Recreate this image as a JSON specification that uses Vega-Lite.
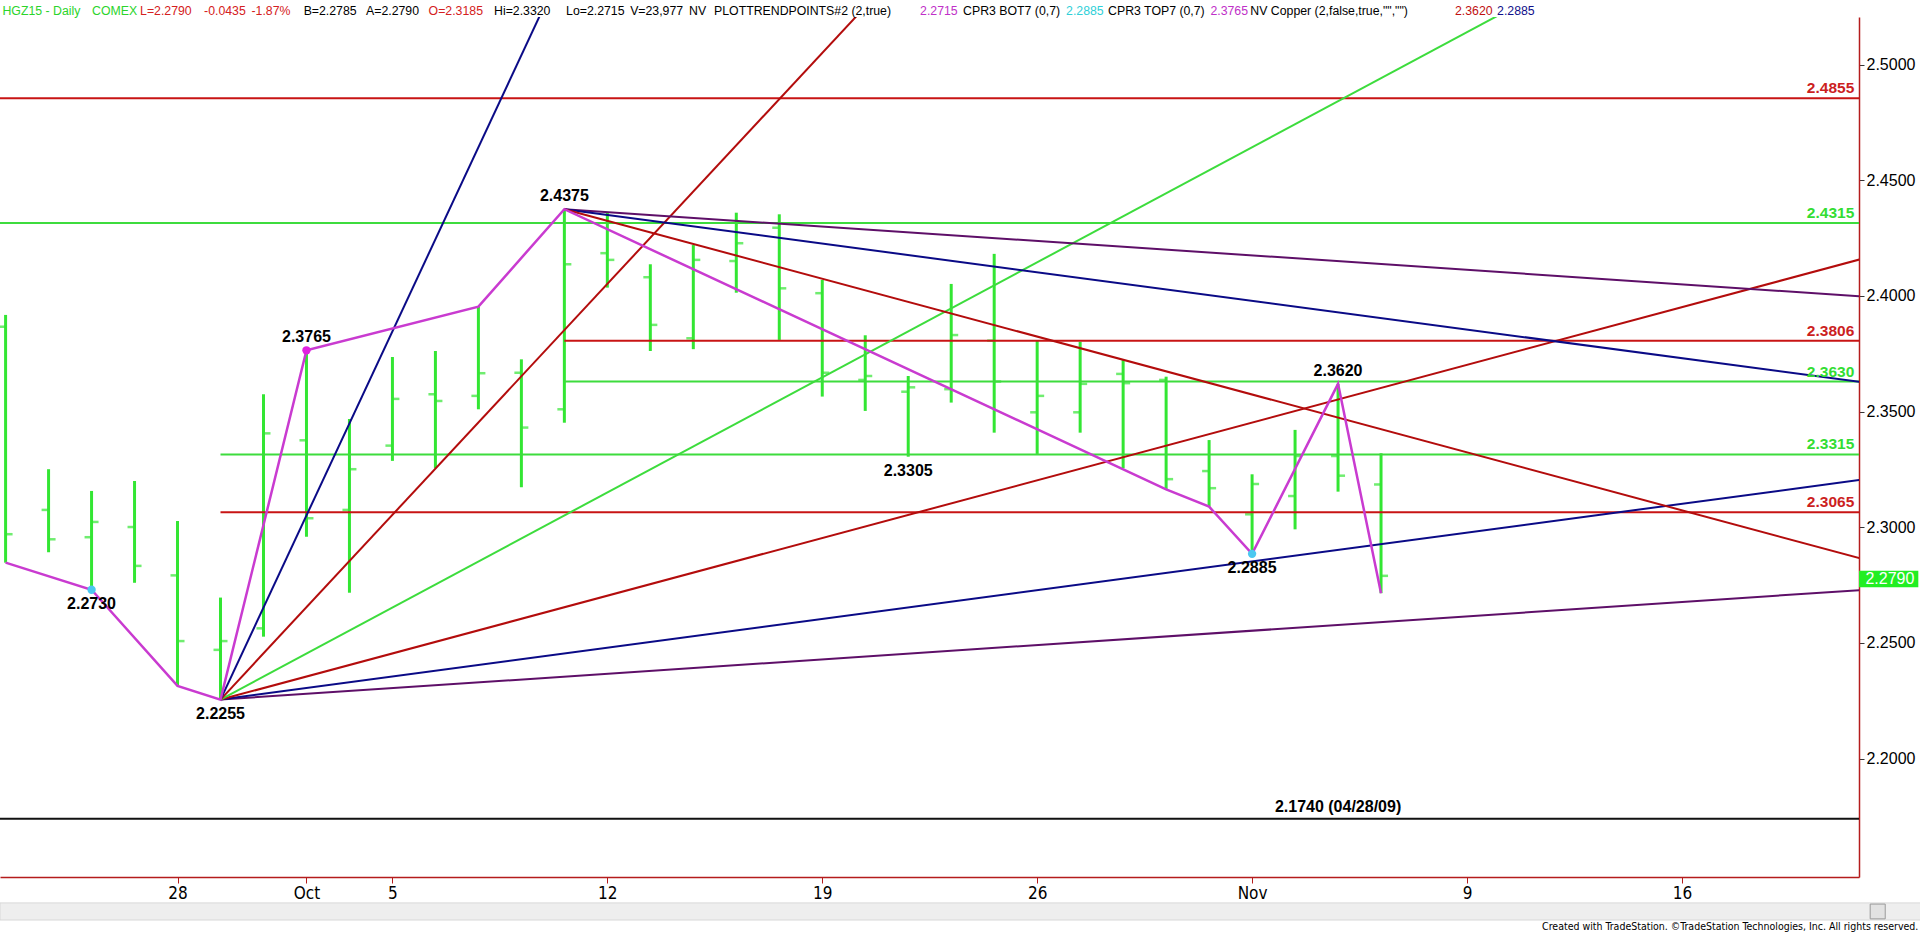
{
  "$schema": "https://vega.github.io/schema/vega-lite/v6.json",
  "width": 1859,
  "height": 860,
  "autosize": {"type": "none"},
  "padding": {"left": 0, "top": 17, "right": 61, "bottom": 57},
  "background": "#ffffff",
  "config": {"view": {"stroke": null}, "font": "Liberation Sans"},
  "resolve": {"scale": {"color": "independent"}},
  "datasets": {
    "bars": [
      {"d": -4, "o": 2.3867, "h": 2.3918, "l": 2.2847, "c": 2.2970},
      {"d": -3, "o": 2.3075, "h": 2.3251, "l": 2.2892, "c": 2.2948},
      {"d": -2, "o": 2.2957, "h": 2.3157, "l": 2.2730, "c": 2.3023},
      {"d": -1, "o": 2.3001, "h": 2.3200, "l": 2.2760, "c": 2.2833},
      {"d": 0, "o": 2.2792, "h": 2.3027, "l": 2.2314, "c": 2.2508},
      {"d": 1, "o": 2.2470, "h": 2.2696, "l": 2.2255, "c": 2.2508},
      {"d": 2, "o": 2.2563, "h": 2.3575, "l": 2.2527, "c": 2.3406},
      {"d": 3, "o": 2.3376, "h": 2.3765, "l": 2.2959, "c": 2.3039},
      {"d": 4, "o": 2.3075, "h": 2.3468, "l": 2.2717, "c": 2.3251},
      {"d": 5, "o": 2.3353, "h": 2.3736, "l": 2.3287, "c": 2.3555},
      {"d": 6, "o": 2.3575, "h": 2.3762, "l": 2.3255, "c": 2.3546},
      {"d": 7, "o": 2.3568, "h": 2.3954, "l": 2.3510, "c": 2.3666},
      {"d": 8, "o": 2.3668, "h": 2.3726, "l": 2.3173, "c": 2.3431},
      {"d": 9, "o": 2.3510, "h": 2.4375, "l": 2.3452, "c": 2.4137},
      {"d": 10, "o": 2.4185, "h": 2.4360, "l": 2.4036, "c": 2.4156},
      {"d": 11, "o": 2.4081, "h": 2.4137, "l": 2.3762, "c": 2.3875},
      {"d": 12, "o": 2.3817, "h": 2.4220, "l": 2.3770, "c": 2.4156},
      {"d": 13, "o": 2.4151, "h": 2.4360, "l": 2.4014, "c": 2.4228},
      {"d": 14, "o": 2.4295, "h": 2.4353, "l": 2.3810, "c": 2.4033},
      {"d": 15, "o": 2.4012, "h": 2.4069, "l": 2.3565, "c": 2.3668},
      {"d": 16, "o": 2.3637, "h": 2.3830, "l": 2.3503, "c": 2.3654},
      {"d": 17, "o": 2.3586, "h": 2.3654, "l": 2.3305, "c": 2.3605},
      {"d": 18, "o": 2.3597, "h": 2.4052, "l": 2.3539, "c": 2.3831},
      {"d": 19, "o": 2.3807, "h": 2.4182, "l": 2.3409, "c": 2.3630},
      {"d": 20, "o": 2.3497, "h": 2.3807, "l": 2.3317, "c": 2.3568},
      {"d": 21, "o": 2.3497, "h": 2.3802, "l": 2.3409, "c": 2.3620},
      {"d": 22, "o": 2.3663, "h": 2.3723, "l": 2.3255, "c": 2.3623},
      {"d": 23, "o": 2.3637, "h": 2.3651, "l": 2.3164, "c": 2.3208},
      {"d": 24, "o": 2.3243, "h": 2.3377, "l": 2.3089, "c": 2.3169},
      {"d": 25, "o": 2.3056, "h": 2.3229, "l": 2.2885, "c": 2.3187},
      {"d": 26, "o": 2.3135, "h": 2.3421, "l": 2.2991, "c": 2.3308},
      {"d": 27, "o": 2.3308, "h": 2.3620, "l": 2.3154, "c": 2.3223},
      {"d": 28, "o": 2.3185, "h": 2.3320, "l": 2.2715, "c": 2.2790}
    ],
    "levelsFull": [
      {"p": 2.4855, "kind": "res"},
      {"p": 2.4315, "kind": "sup"},
      {"p": 2.1740, "kind": "hist"}
    ],
    "levelsPart": [
      {"p": 2.3806, "s": 9, "kind": "res"},
      {"p": 2.3630, "s": 9, "kind": "sup"},
      {"p": 2.3315, "s": 1, "kind": "sup"},
      {"p": 2.3065, "s": 1, "kind": "res"}
    ],
    "levelLabels": [
      {"p": 2.4855, "t": "2.4855", "kind": "res"},
      {"p": 2.4315, "t": "2.4315", "kind": "sup"},
      {"p": 2.3806, "t": "2.3806", "kind": "res"},
      {"p": 2.3630, "t": "2.3630", "kind": "sup"},
      {"p": 2.3315, "t": "2.3315", "kind": "sup"},
      {"p": 2.3065, "t": "2.3065", "kind": "res"}
    ],
    "fan": [
      {"g": "up 1x8", "d": 1, "p": 2.2255}, {"g": "up 1x8", "d": 39.2, "p": 2.2729},
      {"g": "up 1x4", "d": 1, "p": 2.2255}, {"g": "up 1x4", "d": 39.2, "p": 2.3206},
      {"g": "up 1x2", "d": 1, "p": 2.2255}, {"g": "up 1x2", "d": 39.2, "p": 2.4161},
      {"g": "up 1x1", "d": 1, "p": 2.2255}, {"g": "up 1x1", "d": 33, "p": 2.5439},
      {"g": "up 2x1", "d": 1, "p": 2.2255}, {"g": "up 2x1", "d": 17, "p": 2.5450},
      {"g": "up 4x1", "d": 1, "p": 2.2255}, {"g": "up 4x1", "d": 9, "p": 2.5439},
      {"g": "down 1x8", "d": 9, "p": 2.4375}, {"g": "down 1x8", "d": 39.2, "p": 2.3998},
      {"g": "down 1x4", "d": 9, "p": 2.4375}, {"g": "down 1x4", "d": 39.2, "p": 2.3627},
      {"g": "down 1x2", "d": 9, "p": 2.4375}, {"g": "down 1x2", "d": 39.2, "p": 2.2863}
    ],
    "zig": [
      {"d": -4, "p": 2.2847}, {"d": -2, "p": 2.2730}, {"d": 0, "p": 2.2314},
      {"d": 1, "p": 2.2255}, {"d": 3, "p": 2.3765}, {"d": 7, "p": 2.3954},
      {"d": 9, "p": 2.4375}, {"d": 23, "p": 2.3164}, {"d": 24, "p": 2.3089},
      {"d": 25, "p": 2.2885}, {"d": 27, "p": 2.3620}, {"d": 28, "p": 2.2715}
    ],
    "dots": [
      {"d": -2, "p": 2.2730, "kind": "bottom"},
      {"d": 25, "p": 2.2885, "kind": "bottom"},
      {"d": 3, "p": 2.3765, "kind": "top"}
    ],
    "pivots": [
      {"d": -2, "p": 2.2730, "t": "2.2730", "side": "below"},
      {"d": 1, "p": 2.2255, "t": "2.2255", "side": "below"},
      {"d": 3, "p": 2.3765, "t": "2.3765", "side": "above"},
      {"d": 9, "p": 2.4375, "t": "2.4375", "side": "above"},
      {"d": 17, "p": 2.3305, "t": "2.3305", "side": "below"},
      {"d": 25, "p": 2.2885, "t": "2.2885", "side": "below"},
      {"d": 27, "p": 2.3620, "t": "2.3620", "side": "above"}
    ],
    "header": [
      {"t": "HGZ15 - Daily", "d": -4.072, "tone": "green"},
      {"t": "COMEX", "d": -1.989, "tone": "green"},
      {"t": "L=2.2790", "d": -0.872, "tone": "red"},
      {"t": "-0.0435", "d": 0.617, "tone": "red"},
      {"t": "-1.87%", "d": 1.72, "tone": "red"},
      {"t": "B=2.2785", "d": 2.934, "tone": "black"},
      {"t": "A=2.2790", "d": 4.386, "tone": "black"},
      {"t": "O=2.3185", "d": 5.842, "tone": "red"},
      {"t": "Hi=2.3320", "d": 7.364, "tone": "black"},
      {"t": "Lo=2.2715", "d": 9.039, "tone": "black"},
      {"t": "V=23,977", "d": 10.53, "tone": "black"},
      {"t": "NV", "d": 11.901, "tone": "black"},
      {"t": "PLOTTRENDPOINTS#2 (2,true)", "d": 12.483, "tone": "black"},
      {"t": "2.2715", "d": 17.275, "tone": "magenta"},
      {"t": "CPR3 BOT7 (0,7)", "d": 18.276, "tone": "black"},
      {"t": "2.2885", "d": 20.673, "tone": "cyan"},
      {"t": "CPR3 TOP7 (0,7)", "d": 21.65, "tone": "black"},
      {"t": "2.3765", "d": 24.03, "tone": "magenta"},
      {"t": "NV Copper (2,false,true,\"\",\"\")", "d": 24.96, "tone": "black"},
      {"t": "2.3620", "d": 29.72, "tone": "darkred"},
      {"t": "2.2885", "d": 30.70, "tone": "navy"}
    ]
  },
  "layer": [
    {
      "data": {"name": "bars"},
      "mark": {"type": "rule", "strokeWidth": 3, "color": "#33e633"},
      "encoding": {
        "x": {"field": "d", "type": "quantitative", "scale": {"domain": [-4.13, 39.12], "nice": false, "zero": false},
          "axis": {"title": null, "orient": "bottom", "values": [0, 3, 5, 10, 15, 20, 25, 30, 35], "grid": false,
            "labelExpr": "datum.value==0?'28':datum.value==3?'Oct':datum.value==5?'5':datum.value==10?'12':datum.value==15?'19':datum.value==20?'26':datum.value==25?'Nov':datum.value==30?'9':'16'",
            "domainColor": "#b51c1c", "domainWidth": 1.5, "tickColor": "#b51c1c", "tickSize": 6, "labelPadding": 2,
            "labelFont": "Liberation Sans Narrow, Arial Narrow, DejaVu Sans Condensed, sans-serif", "labelFontSize": 17, "labelColor": "#000000"}},
        "y": {"field": "l", "type": "quantitative", "scale": {"domain": [2.1488, 2.5206], "nice": false, "zero": false},
          "axis": {"title": null, "orient": "right", "values": [2.2, 2.25, 2.3, 2.35, 2.4, 2.45, 2.5], "format": ".4f", "grid": false,
            "domainColor": "#b51c1c", "domainWidth": 1.5, "tickColor": "#333333", "tickSize": 5, "labelPadding": 2,
            "labelFont": "Liberation Sans", "labelFontSize": 16, "labelColor": "#000000"}},
        "y2": {"field": "h"}
      }
    },
    {
      "data": {"name": "bars"},
      "mark": {"type": "tick", "orient": "horizontal", "size": 7, "thickness": 2.5, "xOffset": -3.5, "color": "#33e633"},
      "encoding": {
        "x": {"field": "d", "type": "quantitative", "scale": {"domain": [-4.13, 39.12], "nice": false, "zero": false}},
        "y": {"field": "o", "type": "quantitative", "scale": {"domain": [2.1488, 2.5206], "nice": false, "zero": false}}
      }
    },
    {
      "data": {"name": "bars"},
      "mark": {"type": "tick", "orient": "horizontal", "size": 7, "thickness": 2.5, "xOffset": 3.5, "color": "#33e633"},
      "encoding": {
        "x": {"field": "d", "type": "quantitative", "scale": {"domain": [-4.13, 39.12], "nice": false, "zero": false}},
        "y": {"field": "c", "type": "quantitative", "scale": {"domain": [2.1488, 2.5206], "nice": false, "zero": false}}
      }
    },
    {
      "data": {"name": "levelsFull"},
      "mark": {"type": "rule", "strokeWidth": 2},
      "encoding": {
        "y": {"field": "p", "type": "quantitative", "scale": {"domain": [2.1488, 2.5206], "nice": false, "zero": false}},
        "color": {"field": "kind", "type": "nominal", "legend": null, "scale": {"domain": ["res", "sup", "hist"], "range": ["#c81414", "#3ddc3d", "#111111"]}}
      }
    },
    {
      "data": {"name": "levelsPart"},
      "mark": {"type": "rule", "strokeWidth": 2, "clip": true},
      "encoding": {
        "x": {"field": "s", "type": "quantitative", "scale": {"domain": [-4.13, 39.12], "nice": false, "zero": false}},
        "x2": {"datum": 39.2},
        "y": {"field": "p", "type": "quantitative", "scale": {"domain": [2.1488, 2.5206], "nice": false, "zero": false}},
        "color": {"field": "kind", "type": "nominal", "legend": null, "scale": {"domain": ["res", "sup"], "range": ["#c81414", "#3ddc3d"]}}
      }
    },
    {
      "data": {"name": "fan"},
      "mark": {"type": "line", "strokeWidth": 2, "clip": true},
      "encoding": {
        "x": {"field": "d", "type": "quantitative", "scale": {"domain": [-4.13, 39.12], "nice": false, "zero": false}},
        "y": {"field": "p", "type": "quantitative", "scale": {"domain": [2.1488, 2.5206], "nice": false, "zero": false}},
        "detail": {"field": "g"},
        "color": {"field": "g", "type": "nominal", "legend": null,
          "scale": {"domain": ["up 1x8", "up 1x4", "up 1x2", "up 1x1", "up 2x1", "up 4x1", "down 1x8", "down 1x4", "down 1x2"],
            "range": ["#5e0f68", "#0a0a86", "#b30c0c", "#3ddc3d", "#b30c0c", "#0a0a86", "#5e0f68", "#0a0a86", "#b30c0c"]}}
      }
    },
    {
      "data": {"name": "zig"},
      "mark": {"type": "line", "strokeWidth": 2.5, "color": "#c93bd0"},
      "encoding": {
        "x": {"field": "d", "type": "quantitative", "scale": {"domain": [-4.13, 39.12], "nice": false, "zero": false}},
        "y": {"field": "p", "type": "quantitative", "scale": {"domain": [2.1488, 2.5206], "nice": false, "zero": false}}
      }
    },
    {
      "data": {"name": "dots"},
      "mark": {"type": "point", "filled": true, "size": 70, "opacity": 1},
      "encoding": {
        "x": {"field": "d", "type": "quantitative", "scale": {"domain": [-4.13, 39.12], "nice": false, "zero": false}},
        "y": {"field": "p", "type": "quantitative", "scale": {"domain": [2.1488, 2.5206], "nice": false, "zero": false}},
        "color": {"field": "kind", "type": "nominal", "legend": null, "scale": {"domain": ["bottom", "top"], "range": ["#4cc8f0", "#e020e0"]}}
      }
    },
    {
      "data": {"name": "pivots"},
      "transform": [{"filter": "datum.side == 'above'"}],
      "mark": {"type": "text", "fontSize": 16, "fontWeight": "bold", "color": "#000000", "baseline": "middle", "align": "center", "dy": -13},
      "encoding": {
        "x": {"field": "d", "type": "quantitative", "scale": {"domain": [-4.13, 39.12], "nice": false, "zero": false}},
        "y": {"field": "p", "type": "quantitative", "scale": {"domain": [2.1488, 2.5206], "nice": false, "zero": false}},
        "text": {"field": "t"}
      }
    },
    {
      "data": {"name": "pivots"},
      "transform": [{"filter": "datum.side == 'below'"}],
      "mark": {"type": "text", "fontSize": 16, "fontWeight": "bold", "color": "#000000", "baseline": "middle", "align": "center", "dy": 14},
      "encoding": {
        "x": {"field": "d", "type": "quantitative", "scale": {"domain": [-4.13, 39.12], "nice": false, "zero": false}},
        "y": {"field": "p", "type": "quantitative", "scale": {"domain": [2.1488, 2.5206], "nice": false, "zero": false}},
        "text": {"field": "t"}
      }
    },
    {
      "data": {"name": "levelLabels"},
      "mark": {"type": "text", "fontSize": 15.5, "fontWeight": "bold", "baseline": "alphabetic", "align": "right", "dy": -5},
      "encoding": {
        "x": {"datum": 39.01, "type": "quantitative", "scale": {"domain": [-4.13, 39.12], "nice": false, "zero": false}},
        "y": {"field": "p", "type": "quantitative", "scale": {"domain": [2.1488, 2.5206], "nice": false, "zero": false}},
        "text": {"field": "t"},
        "color": {"field": "kind", "type": "nominal", "legend": null, "scale": {"domain": ["res", "sup"], "range": ["#cc1f1f", "#33dd33"]}}
      }
    },
    {
      "data": {"values": [{"t": "2.1740 (04/28/09)", "d": 27.0, "p": 2.174}]},
      "mark": {"type": "text", "fontSize": 16, "fontWeight": "bold", "color": "#000000", "baseline": "alphabetic", "align": "center", "dy": -7},
      "encoding": {
        "x": {"field": "d", "type": "quantitative", "scale": {"domain": [-4.13, 39.12], "nice": false, "zero": false}},
        "y": {"field": "p", "type": "quantitative", "scale": {"domain": [2.1488, 2.5206], "nice": false, "zero": false}},
        "text": {"field": "t"}
      }
    },
    {
      "data": {"values": [{"d1": 39.12, "d2": 40.5, "p1": 2.2741, "p2": 2.2812}]},
      "mark": {"type": "rect", "color": "#22ee22"},
      "encoding": {
        "x": {"field": "d1", "type": "quantitative", "scale": {"domain": [-4.13, 39.12], "nice": false, "zero": false}},
        "x2": {"field": "d2"},
        "y": {"field": "p1", "type": "quantitative", "scale": {"domain": [2.1488, 2.5206], "nice": false, "zero": false}},
        "y2": {"field": "p2"}
      }
    },
    {
      "data": {"values": [{"t": "2.2790", "d": 39.27, "p": 2.2777}]},
      "mark": {"type": "text", "fontSize": 16, "color": "#ffffff", "baseline": "middle", "align": "left"},
      "encoding": {
        "x": {"field": "d", "type": "quantitative", "scale": {"domain": [-4.13, 39.12], "nice": false, "zero": false}},
        "y": {"field": "p", "type": "quantitative", "scale": {"domain": [2.1488, 2.5206], "nice": false, "zero": false}},
        "text": {"field": "t"}
      }
    },
    {
      "data": {"values": [{"d1": -4.13, "d2": 40.6, "p1": 2.1376, "p2": 2.1302}]},
      "mark": {"type": "rect", "color": "#eeeeee", "stroke": "#d8d8d8", "strokeWidth": 1},
      "encoding": {
        "x": {"field": "d1", "type": "quantitative", "scale": {"domain": [-4.13, 39.12], "nice": false, "zero": false}},
        "x2": {"field": "d2"},
        "y": {"field": "p1", "type": "quantitative", "scale": {"domain": [2.1488, 2.5206], "nice": false, "zero": false}},
        "y2": {"field": "p2"}
      }
    },
    {
      "data": {"values": [{"d1": 39.38, "d2": 39.73, "p1": 2.1371, "p2": 2.1307}]},
      "mark": {"type": "rect", "color": "#e2e2e2", "stroke": "#9a9a9a", "strokeWidth": 1},
      "encoding": {
        "x": {"field": "d1", "type": "quantitative", "scale": {"domain": [-4.13, 39.12], "nice": false, "zero": false}},
        "x2": {"field": "d2"},
        "y": {"field": "p1", "type": "quantitative", "scale": {"domain": [2.1488, 2.5206], "nice": false, "zero": false}},
        "y2": {"field": "p2"}
      }
    },
    {
      "data": {"name": "header"},
      "mark": {"type": "text", "fontSize": 12.3, "baseline": "middle", "align": "left"},
      "encoding": {
        "x": {"field": "d", "type": "quantitative", "scale": {"domain": [-4.13, 39.12], "nice": false, "zero": false}},
        "y": {"datum": 2.5233, "type": "quantitative", "scale": {"domain": [2.1488, 2.5206], "nice": false, "zero": false}},
        "text": {"field": "t"},
        "color": {"field": "tone", "type": "nominal", "legend": null,
          "scale": {"domain": ["green", "red", "black", "magenta", "cyan", "darkred", "navy"],
            "range": ["#2bd42b", "#d42020", "#000000", "#c030c8", "#30d0d8", "#c01010", "#10108a"]}}
      }
    },
    {
      "data": {"values": [{"t": "Created with TradeStation. \u00a9TradeStation Technologies, Inc. All rights reserved.", "d": 40.5, "p": 2.1272}]},
      "mark": {"type": "text", "fontSize": 10.5, "font": "Liberation Sans Narrow, Arial Narrow, DejaVu Sans Condensed, sans-serif", "color": "#000000", "baseline": "middle", "align": "right"},
      "encoding": {
        "x": {"field": "d", "type": "quantitative", "scale": {"domain": [-4.13, 39.12], "nice": false, "zero": false}},
        "y": {"field": "p", "type": "quantitative", "scale": {"domain": [2.1488, 2.5206], "nice": false, "zero": false}},
        "text": {"field": "t"}
      }
    }
  ]
}
